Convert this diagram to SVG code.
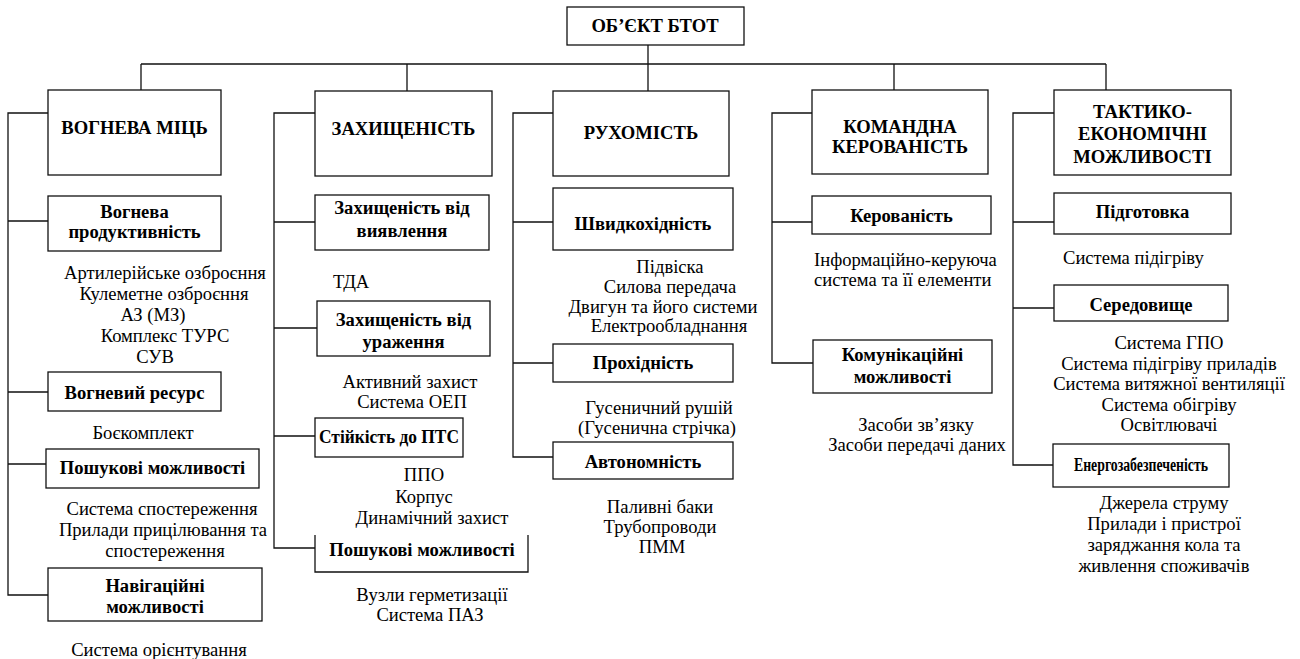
<svg xmlns="http://www.w3.org/2000/svg" width="1300" height="659" viewBox="0 0 1300 659">
<style>
rect{fill:#fff;stroke:#111;stroke-width:1.3}
.c{fill:none;stroke:#111;stroke-width:1.3}
text{font-family:'Liberation Serif','Times New Roman',serif;font-size:18.6px;fill:#000;text-anchor:middle}
.b{font-weight:bold}
.s{text-anchor:start}
</style>
<rect x="0" y="0" width="1300" height="659" style="fill:#fff;stroke:none"/>
<g id="connectors" class="c">
<path class="c" d="M648,45V64M141,64H1106M141,64V90M407,64V91M648,64V91M894,64V90M1106,64V90"/>
<path class="c" d="M48,113H8V595H48M8,221H48M8,392H48M8,464H46"/>
<path class="c" d="M315,113H274V548H315M274,222H315M274,328H317M274,436H315"/>
<path class="c" d="M553,113H513V457H553M513,222H553M513,363H553"/>
<path class="c" d="M812,113H772V363H813M772,222H812"/>
<path class="c" d="M1054,113H1013V465H1053M1013,222H1054M1013,308H1054"/>
</g>
<g id="root"><rect x="567" y="7" width="177" height="38"/><text class="b" x="655" y="32">ОБ’ЄКТ БТОТ</text></g>
<g id="vognevamits"><rect x="48" y="90" width="173" height="85"/><text class="b" x="134.5" y="134">ВОГНЕВА МІЦЬ</text></g>
<g id="vogneva-prod"><rect x="48" y="196" width="173" height="55"/><text class="b" x="134.5" y="218">Вогнева</text><text class="b" x="134.5" y="238">продуктивність</text>
<text x="165" y="279">Артилерійське озброєння</text><text x="164" y="300">Кулеметне озброєння</text><text x="153" y="321">АЗ (МЗ)</text><text x="165" y="342">Комплекс ТУРС</text><text x="155" y="363">СУВ</text></g>
<g id="vognevyi-resurs"><rect x="48" y="372" width="173" height="39"/><text class="b" x="134.5" y="399">Вогневий ресурс</text><text x="143" y="439">Боєкомплект</text></g>
<g id="poshukovi1"><rect x="46" y="449" width="213" height="39"/><text class="b" x="152.5" y="474">Пошукові можливості</text>
<text x="162" y="515">Система спостереження</text><text x="163" y="536">Прилади прицілювання та</text><text x="165" y="557">спостереження</text></g>
<g id="navigatsiini"><rect x="48" y="568" width="214" height="53"/><text class="b" x="155" y="592">Навігаційні</text><text class="b" x="155" y="613">можливості</text><text x="159" y="656">Система орієнтування</text></g>
<g id="zakhyshchenist"><rect x="315" y="91" width="177" height="85"/><text class="b" x="403.5" y="135">ЗАХИЩЕНІСТЬ</text></g>
<g id="zakh-vyiavlennia"><rect x="315" y="195" width="174" height="55"/><text class="b" x="402" y="214">Захищеність від</text><text class="b" x="402" y="237">виявлення</text><text class="s" x="333" y="288">ТДА</text></g>
<g id="zakh-urazhennia"><rect x="317" y="301" width="173" height="55"/><text class="b" x="403.5" y="326">Захищеність від</text><text class="b" x="403.5" y="348">ураження</text>
<text x="410" y="388">Активний захист</text><text x="412" y="408">Система ОЕП</text></g>
<g id="stiikist"><rect x="315" y="418" width="148" height="39"/><text class="b" x="389" y="443" textLength="140" lengthAdjust="spacingAndGlyphs">Стійкість до ПТС</text>
<text x="424" y="481">ППО</text><text x="424" y="503">Корпус</text><text x="432" y="524">Динамічний захист</text></g>
<g id="poshukovi2"><path class="c" d="M315,535V572H528V535"/><text class="b" x="422" y="556">Пошукові можливості</text>
<text x="432" y="601">Вузли герметизації</text><text x="430" y="621">Система ПАЗ</text></g>
<g id="rukhomist"><rect x="553" y="91" width="176" height="85"/><text class="b" x="641" y="139">РУХОМІСТЬ</text></g>
<g id="shvydkokhidnist"><rect x="553" y="188" width="180" height="62"/><text class="b" x="643" y="230">Швидкохідність</text>
<text x="670" y="273">Підвіска</text><text x="670" y="293">Силова передача</text><text x="663" y="313">Двигун та його системи</text><text x="669" y="332">Електрообладнання</text></g>
<g id="prokhidnist"><rect x="553" y="344" width="180" height="38"/><text class="b" x="643" y="369">Прохідність</text>
<text x="659" y="414">Гусеничний рушій</text><text x="657" y="434">(Гусенична стрічка)</text></g>
<g id="avtonomnist"><rect x="553" y="442" width="180" height="37"/><text class="b" x="643" y="468">Автономність</text>
<text x="660" y="513">Паливні баки</text><text x="660" y="533">Трубопроводи</text><text x="662" y="553">ПММ</text></g>
<g id="komandna"><rect x="812" y="90" width="176" height="84"/><text class="b" x="900" y="133">КОМАНДНА</text><text class="b" x="900" y="153">КЕРОВАНІСТЬ</text></g>
<g id="kerovanist"><rect x="812" y="196" width="179" height="38"/><text class="b" x="901.5" y="222">Керованість</text>
<text class="s" x="814" y="266">Інформаційно-керуюча</text><text class="s" x="814" y="286">система та її елементи</text></g>
<g id="komunikatsiini"><rect x="813" y="340" width="179" height="53"/><text class="b" x="902.5" y="361">Комунікаційні</text><text class="b" x="902.5" y="383">можливості</text>
<text x="916" y="431">Засоби зв’язку</text><text x="917" y="451">Засоби передачі даних</text></g>
<g id="taktyko"><rect x="1054" y="90" width="177" height="85"/><text class="b" x="1142.5" y="118">ТАКТИКО-</text><text class="b" x="1142.5" y="140">ЕКОНОМІЧНІ</text><text class="b" x="1142.5" y="163">МОЖЛИВОСТІ</text></g>
<g id="pidhotovka"><rect x="1054" y="193" width="177" height="41"/><text class="b" x="1142.5" y="218">Підготовка</text><text class="s" x="1063" y="264">Система підігріву</text></g>
<g id="seredovyshche"><rect x="1054" y="285" width="174" height="36"/><text class="b" x="1141" y="311">Середовище</text>
<text x="1169" y="349">Система ГПО</text><text x="1169" y="370">Система підігріву приладів</text><text x="1169" y="390">Система витяжної вентиляції</text><text x="1169" y="411">Система обігріву</text><text x="1169" y="431">Освітлювачі</text></g>
<g id="enerhozabezpechenist"><rect x="1053" y="444" width="176" height="43"/><text class="b" x="1141" y="471" textLength="134" lengthAdjust="spacingAndGlyphs">Енергозабезпеченість</text>
<text x="1164" y="509">Джерела струму</text><text x="1164" y="530">Прилади і пристрої</text><text x="1164" y="551">заряджання кола та</text><text x="1164" y="572">живлення споживачів</text></g>
</svg>
